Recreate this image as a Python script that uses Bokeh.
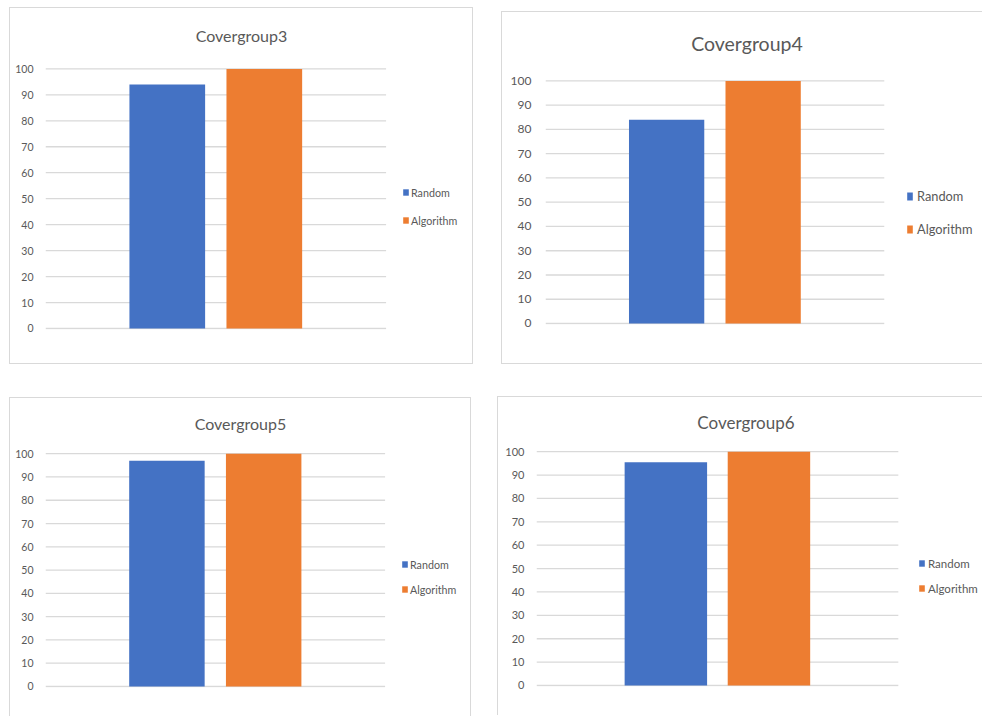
from bokeh.plotting import figure
from bokeh.models import Range1d, Legend, LegendItem, FixedTicker, Label
from bokeh.layouts import column, row
from bokeh.embed import file_html
from bokeh.resources import INLINE

groups = ["Covergroup3", "Covergroup4", "Covergroup5", "Covergroup6"]
series = ["Random", "Algorithm"]
random_vals = [94, 84, 97, 95.5]
algorithm_vals = [100, 100, 100, 100]
y_ticks = [0, 10, 20, 30, 40, 50, 60, 70, 80, 90, 100]

COLORS = ["#4472C4", "#ED7D31"]
GRID = "#D9D9D9"
TXT = "#595959"
FONT = "Lato"

# plot-area extent along x (data units) for the two series positions 0 and 1
AREA_X0 = 0.5 - 1.755
AREA_X1 = 0.5 + 1.755
Y_MAX = 100

# layout styling per panel (pixels): outer box, margins, plot-area insets, title and legend placement
panels = [
    dict(w=464, h=357, mt=7, ml=9, bb=True, br=True, fl=36, fw=339, y100=61, y0=319, bw=0.78,
         tcx=195, tcy=33, tfs=16, afs=10.5, ast=6, lfs=10.7, lx=357, ly=102, lsp=14, lst=2, gw=7, gh=8),
    dict(w=481, h=353, mt=11, ml=28, bb=True, br=False, fl=44, fw=338, y100=69, y0=310, bw=0.78,
         tcx=201, tcy=37, tfs=19.5, afs=12, ast=8, lfs=12.8, lx=361, ly=87, lsp=17, lst=4, gw=7, gh=10),
    dict(w=462, h=319, mt=33, ml=9, bb=False, br=True, fl=36, fw=338, y100=56, y0=288, bw=0.78,
         tcx=194, tcy=30, tfs=16, afs=10.5, ast=6, lfs=10.7, lx=356, ly=91, lsp=11, lst=2, gw=7, gh=8),
    dict(w=485, h=319, mt=32, ml=26, bb=False, br=False, fl=39, fw=361, y100=55, y0=288, bw=0.8,
         tcx=209, tcy=29, tfs=17, afs=11, ast=6, lfs=11.5, lx=382, ly=91, lsp=11, lst=3, gw=7, gh=8),
]

def make_panel(i):
    cfg = panels[i]
    bw_r = 1 if cfg["br"] else 0
    bw_b = 1 if cfg["bb"] else 0
    cw = cfg["w"] - 1 - bw_r
    chh = cfg["h"] - 1 - bw_b
    styles = {
        "border-left": "1px solid #D9D9D9",
        "border-top": "1px solid #D9D9D9",
        "border-right": "1px solid #D9D9D9" if cfg["br"] else "none",
        "border-bottom": "1px solid #D9D9D9" if cfg["bb"] else "none",
    }
    # x scale
    left = cfg["fl"] - 1
    frame_w = cw - left
    xpp = (AREA_X1 - AREA_X0) / cfg["fw"]
    x_end = AREA_X0 + frame_w * xpp
    # y scale: frame spans from content top to 1px below the zero line
    c100 = cfg["y100"] - 1
    c0 = cfg["y0"] - 1
    ypp = Y_MAX / (c0 - c100)
    y_start = -1 * ypp
    y_end = Y_MAX + c100 * ypp
    bottom = chh - (c0 + 1)

    p = figure(width=cfg["w"], height=cfg["h"], output_backend="svg", toolbar_location=None,
               x_range=Range1d(AREA_X0, x_end), y_range=Range1d(y_start, y_end),
               x_axis_location=None, title_location=None,
               min_border_left=left, min_border_right=0,
               min_border_top=0, min_border_bottom=bottom,
               margin=(cfg["mt"], 0, 0, cfg["ml"]), styles=styles)
    p.outline_line_color = None
    p.background_fill_color = "white"
    p.border_fill_color = "white"

    # horizontal gridlines restricted to the plot area
    p.segment(x0=AREA_X0, x1=AREA_X1, y0=y_ticks, y1=y_ticks, line_color=GRID, line_width=1.3)

    vals = [random_vals[i], algorithm_vals[i]]
    rends = []
    for k, s in enumerate(series):
        r = p.vbar(x=[k], top=[vals[k]], bottom=0, width=cfg["bw"], fill_color=COLORS[k], line_color=None)
        rends.append(r)

    p.add_layout(Label(x=AREA_X0 + cfg["tcx"] * xpp, y=Y_MAX + cfg["tcy"] * ypp, text=groups[i],
                       text_align="center", text_baseline="middle", text_font=FONT,
                       text_font_size=f"{cfg['tfs']}px", text_color=TXT))

    p.xgrid.visible = False
    p.ygrid.visible = False
    p.yaxis.ticker = FixedTicker(ticks=y_ticks)
    p.yaxis.axis_line_color = None
    p.yaxis.major_tick_line_color = None
    p.yaxis.minor_tick_line_color = None
    p.yaxis.major_label_text_font = FONT
    p.yaxis.major_label_text_font_size = f"{cfg['afs']}px"
    p.yaxis.major_label_text_color = TXT
    p.yaxis.major_label_standoff = cfg["ast"]

    legend = Legend(items=[LegendItem(label=s, renderers=[rends[k]]) for k, s in enumerate(series)],
                    location=(cfg["lx"], cfg["ly"]), orientation="vertical",
                    label_text_font=FONT, label_text_font_size=f"{cfg['lfs']}px", label_text_color=TXT,
                    glyph_width=cfg["gw"], glyph_height=cfg["gh"], label_height=14,
                    label_standoff=cfg["lst"], spacing=cfg["lsp"], padding=0, margin=0,
                    border_line_color=None, background_fill_alpha=0)
    p.add_layout(legend)
    return p

figs = [make_panel(i) for i in range(4)]
layout = column(row(column(figs[0]), column(figs[1]), spacing=0),
                row(column(figs[2]), column(figs[3]), spacing=0), spacing=0)

open("out.html", "w").write(file_html(layout, INLINE))
